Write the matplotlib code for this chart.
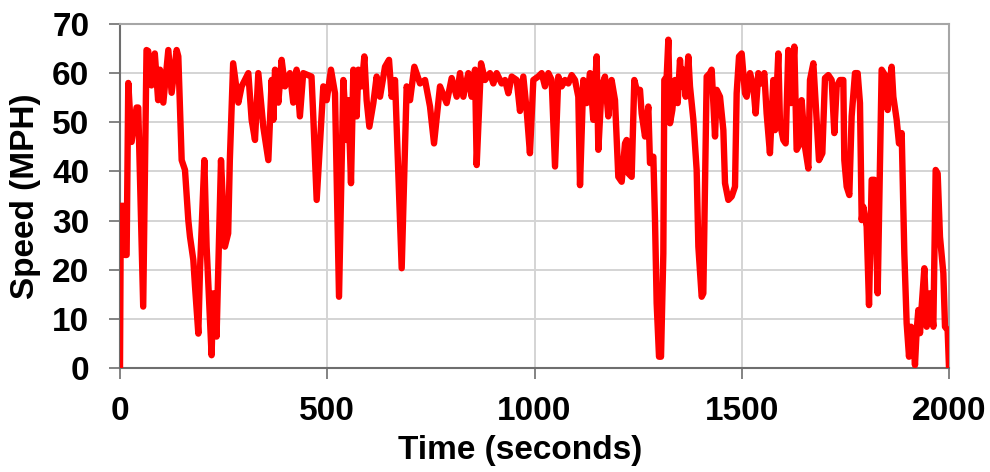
import matplotlib
matplotlib.use("Agg")
import matplotlib.pyplot as plt

# speed trace (seconds, MPH)
time_s = [
    0, 2, 8, 12, 16, 20, 28, 40, 44, 56, 64, 68, 76, 84, 92, 96.5, 104.5, 116.6, 124.6,
    136.7, 140.7, 148.8, 156.8, 164.9, 168.9, 176.9, 181, 189, 193, 203.5, 209, 221, 225,
    233, 243.7, 253, 261, 265, 273, 285.5, 293.5, 309.6, 317.6, 325.7, 333.7, 345.8, 357.9,
    365.9, 370, 374, 382, 390, 398, 410, 418, 426, 434, 442, 462, 466, 474.5, 490.5, 498.6,
    509, 518.7, 528.4, 538.8, 546.9, 550.9, 557.3, 563, 571, 575, 583, 589.5, 595, 601.6,
    611.2, 619.2, 627.3, 639.4, 649, 655.4, 663.5, 679.6, 691.6, 699.7, 710.1, 723.8, 735.9,
    747.9, 757.6, 772, 788.1, 800.2, 812.3, 820.3, 828.3, 840.4, 848.4, 856.5, 860.5, 871,
    880.6, 892.7, 900.7, 908.7, 920.8, 928.9, 936.9, 945, 957, 965, 973, 981, 989, 997.2,
    1009, 1017.3, 1025.3, 1033.4, 1041.4, 1049.5, 1057.5, 1065.5, 1073.6, 1081.6, 1089.7,
    1097.7, 1105.7, 1109.8, 1117.8, 1125.8, 1133.9, 1141.9, 1150, 1154, 1162, 1170, 1178,
    1186, 1194.2, 1202.2, 1210.3, 1218.3, 1222.3, 1226.4, 1234.4, 1240.8, 1246.5, 1254.5,
    1258.5, 1266.6, 1274.6, 1278.6, 1286.7, 1290.7, 1294.7, 1300.4, 1305.2, 1310.8, 1313.2,
    1318.9, 1322.9, 1326.9, 1332.5, 1339, 1345.4, 1351, 1355, 1359, 1364.7, 1371.1, 1375.1,
    1383.2, 1391.2, 1395.3, 1403.3, 1407.3, 1411.3, 1415.4, 1423.4, 1427.4, 1435.5, 1439.5,
    1447.5, 1455.6, 1459.6, 1467.6, 1475.7, 1483.7, 1487.7, 1493.4, 1499.8, 1507.8,
    1511.8, 1519.9, 1527.9, 1533.5, 1540, 1548, 1554.4, 1560, 1568, 1576.2, 1580.2, 1588.2,
    1592.2, 1600.3, 1605.9, 1612.3, 1618.8, 1626.8, 1632.4, 1640.5, 1644.5, 1652.5, 1660.6,
    1664.6, 1672.7, 1680.7, 1686.3, 1694.4, 1700.8, 1708.9, 1716.9, 1723.3, 1729, 1737,
    1745, 1747.4, 1753.1, 1759.5, 1765.1, 1773.2, 1779.6, 1785.2, 1789.3, 1793.3, 1801.3,
    1807, 1813.4, 1819.8, 1827.9, 1837.5, 1845.6, 1852, 1857.6, 1861.6, 1865.7, 1873.7,
    1879.3, 1885.8, 1892.2, 1897.8, 1903.5, 1908.3, 1913.9, 1917.9, 1922, 1926, 1930, 1934,
    1940.5, 1946.1, 1954.1, 1962.2, 1967.8, 1972.6, 1978.2, 1986.3, 1990.3, 1996.7, 2000,
]
speed_mph = [
    0, 33, 33, 23, 23, 58, 46, 53, 53, 12.5, 64.7, 64.5, 57.5, 64, 54.5, 60.7, 54, 64.7, 56,
    64.7, 63.4, 42.3, 40.3, 30, 26.7, 22, 16.6, 7, 20, 42.3, 24.7, 2.6, 15.2,
    6.4, 42.3, 24.7, 27.4, 42.3, 62, 54, 57.3, 60, 50.5, 46.4, 60, 49, 42.3,
    58.6, 50.5, 60.7, 54, 62.7, 57.3, 60, 54, 60.7, 51.2, 60, 59.3, 51.8, 34.2, 57.3, 54.5,
    60.7, 55.9, 14.5, 58.6, 46.4, 54.5, 37.6, 60.7, 51.2, 60.7, 57.3, 63.4, 54.5, 49.1,
    53.9, 59.3, 55.2, 61.3, 62.7, 55.2, 58.6, 20.3, 57.3, 54.5, 61.3, 57.9, 58.6,
    53.2, 45.7, 57.3, 53.9, 59, 55.2, 60, 55.2, 60, 55.2, 60.7, 41.3, 62,
    58.6, 60, 57.9, 60, 57.9, 58.6, 55.9, 59.3, 58.6, 52.3, 59.3, 52.5, 43.7, 58.6,
    59.3, 60, 57.3, 60, 58.6, 41, 59.3, 57.3, 58.6, 57.9, 59.6,
    58.6, 55.2, 37.2, 58.6, 53.9, 60, 50.5, 63.4, 44.4, 57.3, 59.3, 51.2,
    58.6, 54.5, 38.9, 37.9, 45.7, 46.4, 39.6, 38.9, 58.6, 56.6, 56.6,
    51.8, 47.1, 53.2, 41.7, 43, 30.1, 13.2, 2.3, 2.3, 23.3, 58.6,
    59.3, 66.8, 49.8, 52.5, 58.6, 53.9, 62.7, 57.3, 60.7, 55.2, 63.4, 57.3,
    50.5, 40.3, 24.7, 14.5, 15.2, 36.9, 59.3, 60, 60.7, 47.1, 56.6,
    55.2, 48.4, 37.6, 34.2, 34.9, 36.9, 55.9, 63.4, 64, 55.9,
    55.2, 60, 57.3, 51.8, 60, 57.9, 60, 51.8, 43.7, 58.6, 48.4, 64,
    49.8, 46.4, 45.7, 64.7, 53.9, 65.4, 44.4, 45.7, 54.5, 45, 40.6,
    58.6, 62, 50.5, 42.3, 43.7, 59, 59.6, 58.6, 47.8, 57.3, 58.6,
    58.6, 42.3, 36.9, 35.2, 51.2, 60, 60, 53.9, 30.1, 32.8, 28.8,
    12.8, 38.3, 38.3, 15.2, 60.7, 59.6, 52.5, 58.6, 61.3, 55.2, 50.5,
    45.7, 47.8, 23.3, 9.1, 2.3, 8.4, 5.7, 0.6, 7.7, 11.8, 7.1, 12.5,
    20.3, 8.4, 15.2, 8.4, 40.3, 39.6, 26.7, 19.3, 8.4, 7.7, 0,
]
x_ticks = [0, 500, 1000, 1500, 2000]
y_ticks = [0, 10, 20, 30, 40, 50, 60, 70]

plt.rcParams['font.family'] = ['Liberation Sans', 'DejaVu Sans']

fig = plt.figure(figsize=(9.9, 4.72), dpi=100)
ax = fig.add_axes([0.1212, 0.2203, 0.8374, 0.7289])

ax.plot(time_s, speed_mph, color='#ff0000', linewidth=4.6, solid_joinstyle='round',
        solid_capstyle='butt', zorder=3)

ax.set_xlim(0, 2000)
ax.set_ylim(0, 70)
ax.set_xticks(x_ticks)
ax.set_yticks(y_ticks)
ax.grid(True, color='#d4d4d4', linewidth=1.4, zorder=0)

for side in ['top', 'right']:
    ax.spines[side].set_color('#a6a6a6')
    ax.spines[side].set_linewidth(1.5)
for side in ['left', 'bottom']:
    ax.spines[side].set_color('#6e6e6e')
    ax.spines[side].set_linewidth(1.5)

ax.tick_params(axis='both', direction='out', length=8, width=1.2, color='#6e6e6e',
               labelsize=24, labelcolor='black')
ax.tick_params(axis='y', pad=14)
ax.tick_params(axis='x', pad=12)
for lbl in ax.get_xticklabels() + ax.get_yticklabels():
    lbl.set_fontweight('bold')

ax.set_xlabel('Time (seconds)', fontsize=24, fontweight='bold')
ax.set_ylabel('Speed (MPH)', fontsize=24, fontweight='bold')
ax.xaxis.set_label_coords(0.4825, -0.195)
ax.yaxis.set_label_coords(-0.095, 0.5)

fig.savefig('out.png', dpi=100)
